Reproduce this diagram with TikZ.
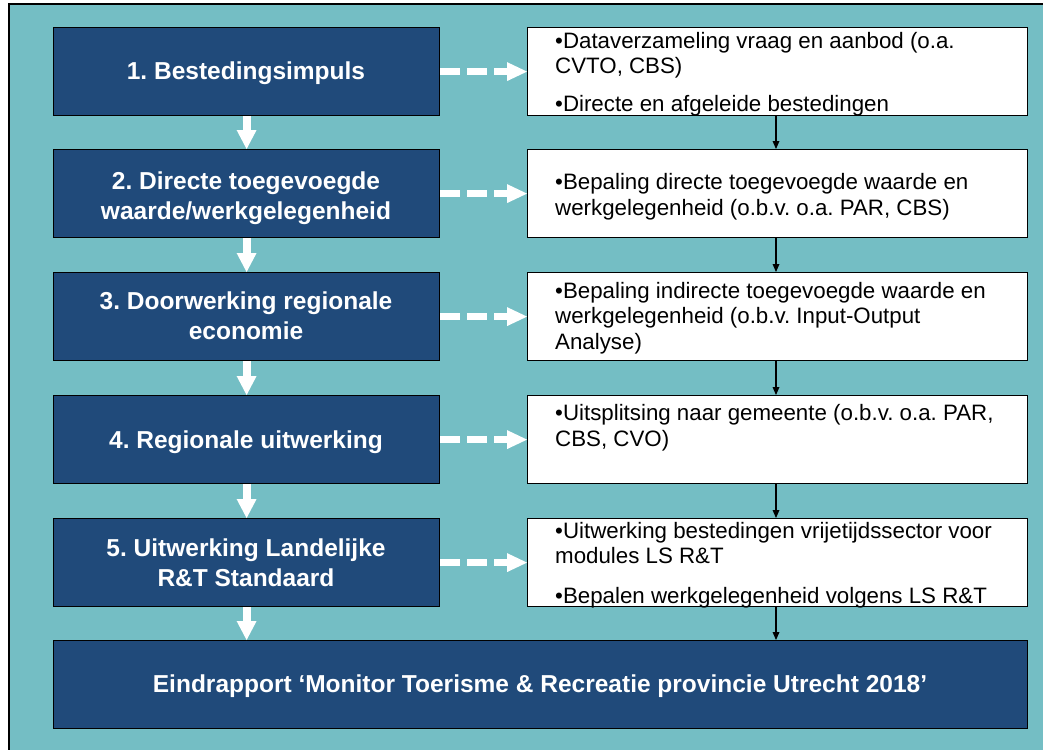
\documentclass[tikz,border=0pt]{standalone}
\usepackage{fontspec}
\setmainfont{Liberation Sans}
\usetikzlibrary{arrows.meta}
\frenchspacing
\definecolor{bgteal}{RGB}{116,190,196}
\definecolor{boxblue}{RGB}{32,74,122}
\begin{document}
\begin{tikzpicture}[x=1pt,y=-1pt,
  lbox/.style={draw=black,line width=1.2pt,fill=boxblue,minimum width=386pt,minimum height=88pt,inner sep=0pt,anchor=north west},
  rbox/.style={draw=black,line width=1.2pt,fill=white,minimum width=500pt,minimum height=88pt,inner sep=0pt,anchor=north west},
  ltext/.style={text=white,font=\fontsize{24.5}{29.5}\selectfont\bfseries\frenchspacing,align=center,inner sep=0pt,anchor=base},
  rtext/.style={text=black,font=\fontsize{22.3}{25.5}\selectfont\frenchspacing,align=left,inner sep=0pt,anchor=base west},
  whitearrow/.style={draw=white,line width=8pt,-{Triangle[length=19pt,width=20pt,line width=0pt]}},
  dasharrow/.style={draw=white,line width=7pt,dash pattern=on 20pt off 7pt,-{Triangle[length=20pt,width=19pt,line width=0pt]}},
  blackarrow/.style={draw=black,line width=1.4pt,-{Triangle[length=8pt,width=7pt,line width=0pt]}}
]
\useasboundingbox (0,0) rectangle (1043,749);
\begin{scope}
\clip (0,0) rectangle (1043,749);
\filldraw[fill=bgteal,draw=black,line width=1.2pt] (9,4) rectangle (1060,770);
\end{scope}

% left boxes
\node[lbox] (l1) at (53,27) {};
\node[lbox] (l2) at (53,149) {};
\node[lbox] (l3) at (53,272) {};
\node[lbox] (l4) at (53,395) {};
\node[lbox] (l5) at (53,518) {};
\node[lbox,minimum width=974pt] (fin) at (53,640) {};

% right boxes
\node[rbox] (r1) at (527,27) {};
\node[rbox] (r2) at (527,149) {};
\node[rbox] (r3) at (527,272) {};
\node[rbox] (r4) at (527,395) {};
\node[rbox] (r5) at (527,518) {};

% left texts (anchor base = last line)
\node[ltext] (t1) at (246,80) {1. Bestedingsimpuls};
\node[ltext] (t2) at (246,219) {2. Directe toegevoegde\\waarde/werkgelegenheid};
\node[ltext] (t3) at (246,339) {3. Doorwerking regionale\\economie};
\node[ltext] (t4) at (246,448) {4. Regionale uitwerking};
\node[ltext] (t5) at (246,586) {5. Uitwerking Landelijke\\R\&T Standaard};
\node[ltext] (tf) at (540,692) {Eindrapport ‘Monitor Toerisme \& Recreatie provincie Utrecht 2018’};

% right texts (anchor base = last line)
\node[rtext] (s1) at (555,111) {•Dataverzameling vraag en aanbod (o.a.\\CVTO, CBS)\\[11.5pt]•Directe en afgeleide bestedingen};
\node[rtext] (s2) at (555,215) {•Bepaling directe toegevoegde waarde en\\werkgelegenheid (o.b.v. o.a. PAR, CBS)};
\node[rtext] (s3) at (555,349) {•Bepaling indirecte toegevoegde waarde en\\werkgelegenheid (o.b.v. Input-Output\\Analyse)};
\node[rtext] (s4) at (555,446) {•Uitsplitsing naar gemeente (o.b.v. o.a. PAR,\\CBS, CVO)};
\node[rtext] (s5) at (555,603) {•Uitwerking bestedingen vrijetijdssector voor\\modules LS R\&T\\[14pt]•Bepalen werkgelegenheid volgens LS R\&T};

% white down arrows
\draw[whitearrow] (l1.south) -- (l2.north);
\draw[whitearrow] (l2.south) -- (l3.north);
\draw[whitearrow] (l3.south) -- (l4.north);
\draw[whitearrow] (l4.south) -- (l5.north);
\draw[whitearrow] (l5.south) -- (l5.south |- fin.north);

% dashed arrows
\draw[dasharrow] (l1.east) -- (r1.west);
\draw[dasharrow] (l2.east) -- (r2.west);
\draw[dasharrow] (l3.east) -- (r3.west);
\draw[dasharrow] (l4.east) -- (r4.west);
\draw[dasharrow] (l5.east) -- (r5.west);

% black arrows
\coordinate (ax) at (776,0);
\draw[blackarrow] (r1.south -| ax) -- (r2.north -| ax);
\draw[blackarrow] (r2.south -| ax) -- (r3.north -| ax);
\draw[blackarrow] (r3.south -| ax) -- (r4.north -| ax);
\draw[blackarrow] (r4.south -| ax) -- (r5.north -| ax);
\draw[blackarrow] (r5.south -| ax) -- (fin.north -| ax);
\end{tikzpicture}
\end{document}
